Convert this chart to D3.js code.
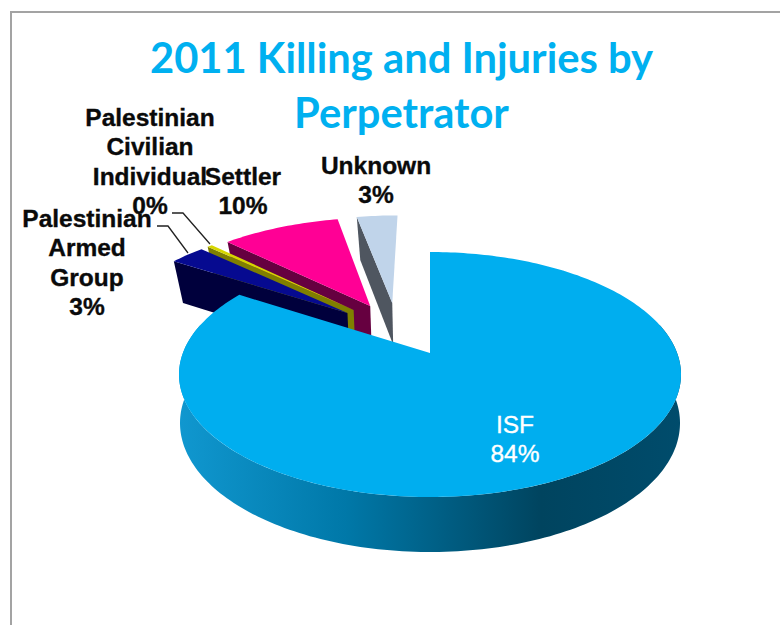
<!DOCTYPE html>
<html>
<head>
<meta charset="utf-8">
<script src="https://cdn.jsdelivr.net/npm/d3@7"></script>
<style>
  html, body { margin: 0; padding: 0; background: #fff; }
  svg { display: block; }
</style>
</head>
<body>
<svg id="chart" width="780" height="625"></svg>
<script>
// Chart values
const titleLines = ["2011 Killing and Injuries by", "Perpetrator"];
const categories = ["ISF", "Palestinian Armed Group", "Palestinian Civilian Individual", "Settler", "Unknown"];
const shares = [84, 2.8, 0.4, 9.5, 3.3];
const labelLines = [["ISF"], ["Palestinian", "Armed", "Group"], ["Palestinian", "Civilian", "Individual"], ["Settler"], ["Unknown"]];

// Slice styling and layout, in category order
const topColors = ["#00aeef", "#060a90", "#d6d600", "#ff0095", "#c0d4ea"];
const wallColors = ["#0070a0", "#00003c", "#7f7f00", "#660040", "#4f5660"];
const explode = [[0, 0], [-0.355, -0.358], [-0.33, -0.387], [-0.26, -0.4255], [-0.165, -0.455]];
const labelAnchors = [[515, 433], [87, 227], [150, 126], [243, 185], [376, 174]];
const leaders = [null, [[157, 226], [168, 226], [188, 253]], [[172, 213], [183, 213], [210, 244]], null, null];
const drawOrder = [4, 3, 2, 1, 0];

const svg = d3.select("#chart");

// Perspective projection of the pie plane. Each plane is set by the screen y of the
// far rim, the centre and the near rim, plus its half width.
function plane(cx, yFar, yMid, yNear, halfWidth) {
  const nearSpan = yNear - yMid, farSpan = yMid - yFar;
  const k = (nearSpan - farSpan) / (nearSpan + farSpan);
  const a = nearSpan * (1 - k);
  const b = halfWidth * Math.sqrt(1 - k * k);
  return (u, v) => {
    const w = 1 - k * v;
    return [cx + b * u / w, yMid + a * v / w];
  };
}
const topPlane = plane(430, 252, 353, 497, 251);
const basePlane = plane(430, 294, 396, 552, 250);

const rimPoint = (proj, angle, off) =>
  proj(Math.sin(angle) + off[0], -Math.cos(angle) + off[1]);
const rimRun = (proj, a0, a1, off) => {
  const n = Math.max(2, Math.ceil(Math.abs(a1 - a0) / 0.02));
  return d3.range(n + 1).map(i => rimPoint(proj, a0 + (a1 - a0) * i / n, off));
};
const closed = d3.line().curve(d3.curveLinearClosed);

const arcs = d3.pie().sort(null).value(d => d)(shares);
const total = d3.sum(shares);
const pct = d3.format(".0%");

// Frame
svg.append("path")
  .attr("d", "M11,625V12H780")
  .attr("fill", "none")
  .attr("stroke", "#a3a3a3")
  .attr("stroke-width", 2);

// Shading along the front wall of the large slice
const defs = svg.append("defs");
const wallGrad = defs.append("linearGradient")
  .attr("id", "frontWall")
  .attr("gradientUnits", "userSpaceOnUse")
  .attr("x1", 181).attr("x2", 682).attr("y1", 0).attr("y2", 0);
[[0, "#1097cf"], [0.33, "#0078a8"], [0.72, "#00445f"], [1, "#004c6c"]].forEach(([o, c]) =>
  wallGrad.append("stop").attr("offset", o).attr("stop-color", c));

// Slices, back to front
drawOrder.forEach(i => {
  const d = arcs[i], off = explode[i];
  const g = svg.append("g");
  const apexTop = topPlane(off[0], off[1]);
  const apexBase = basePlane(off[0], off[1]);
  if (i === 0) {
    // Outer wall facing the viewer
    const a0 = Math.PI * 0.42, a1 = Math.PI * 1.58;
    g.append("path")
      .attr("d", closed(rimRun(topPlane, a0, a1, off).concat(rimRun(basePlane, a1, a0, off))))
      .attr("fill", "url(#frontWall)");
  } else {
    // Cut face along the leading edge
    g.append("path")
      .attr("d", closed([rimPoint(topPlane, d.startAngle, off), apexTop, apexBase, rimPoint(basePlane, d.startAngle, off)]))
      .attr("fill", wallColors[i]);
  }
  g.append("path")
    .attr("d", closed([apexTop].concat(rimRun(topPlane, d.startAngle, d.endAngle, off))))
    .attr("fill", topColors[i]);
});

// Leader lines
leaders.forEach(pts => {
  if (!pts) return;
  svg.append("path")
    .attr("d", d3.line()(pts))
    .attr("fill", "none")
    .attr("stroke", "#222")
    .attr("stroke-width", 1.3);
});

// Data labels: name lines followed by the share
categories.forEach((name, i) => {
  const lines = labelLines[i].concat(pct(shares[i] / total));
  const isLarge = i === 0;
  const ink = isLarge ? "#fff" : "#0a0a0a";
  const text = svg.append("text")
    .attr("text-anchor", "middle")
    .attr("font-family", "'Liberation Sans', Arial, sans-serif")
    .attr("font-size", 24.5)
    .attr("font-weight", isLarge ? 400 : 700)
    .attr("fill", ink)
    .attr("stroke", ink)
    .attr("stroke-width", 0.35);
  lines.forEach((line, j) => {
    text.append("tspan")
      .attr("x", labelAnchors[i][0])
      .attr("y", labelAnchors[i][1] + j * 29.3)
      .text(line);
  });
});

// Title
titleLines.forEach((line, j) => {
  svg.append("text")
    .attr("x", 401.5)
    .attr("y", 73 + j * 55)
    .attr("text-anchor", "middle")
    .attr("font-family", "Lato, 'Noto Sans', sans-serif")
    .attr("font-weight", 700)
    .attr("font-size", 41.7)
    .attr("fill", "#00b0f0")
    .text(line);
});
</script>
</body>
</html>
